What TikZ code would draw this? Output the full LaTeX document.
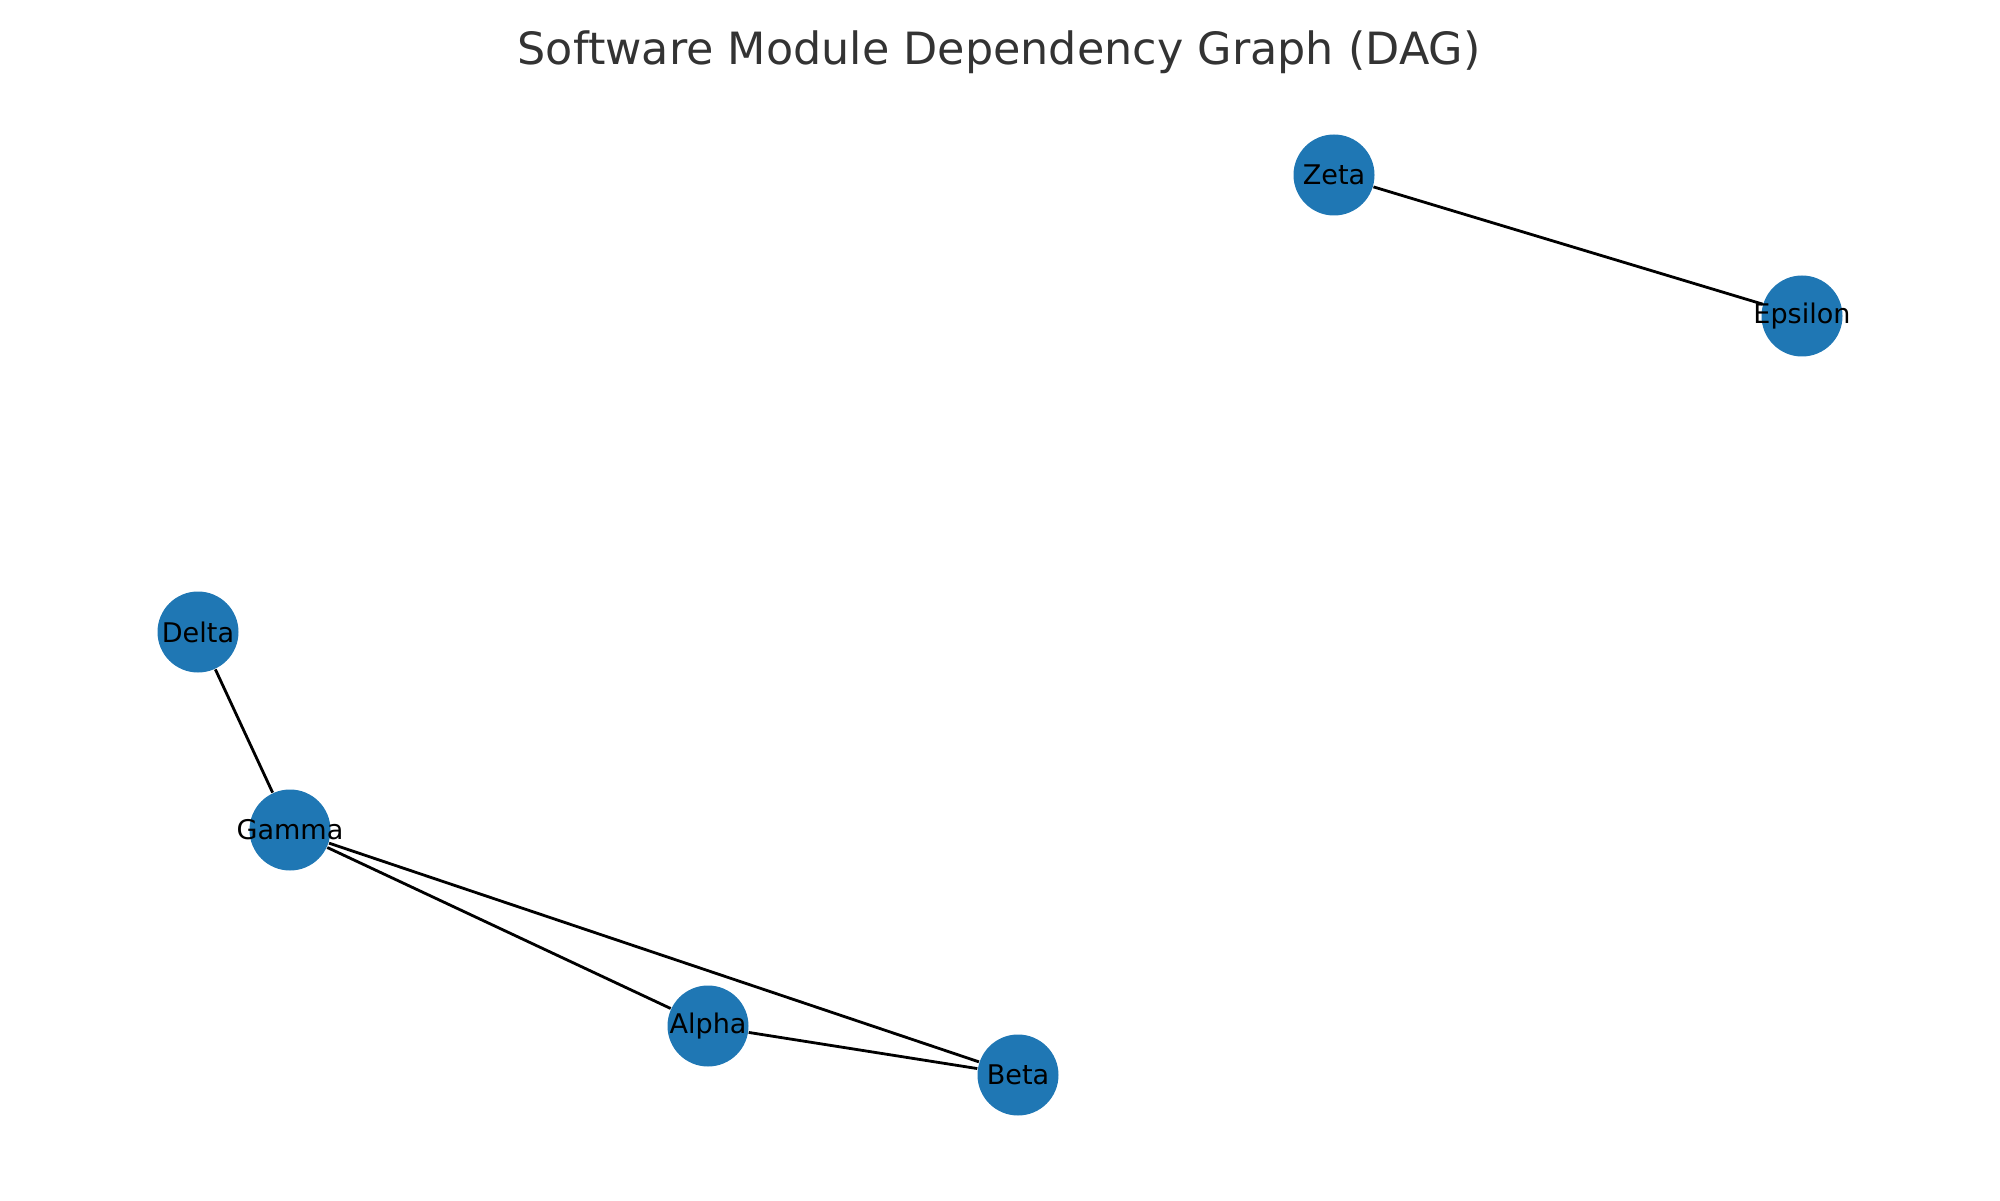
\documentclass[tikz,border=0pt]{standalone}
\usepackage{fontspec}
\setmainfont{DejaVu Sans}
\usepackage{xcolor}
\usepackage{tikz}
\usetikzlibrary{positioning}
\definecolor{modblue}{HTML}{1F77B4}
\definecolor{titlegray}{HTML}{333333}

\begin{document}
\begin{tikzpicture}[
    module/.style={circle,fill=modblue,minimum size=0.81cm,inner sep=0pt,
                   label={[font=\fontsize{7.7}{9}\selectfont,text=black]center:#1}},
    dep/.style={line width=0.8pt,black}
]
\useasboundingbox (0,0) rectangle (20,12);
\node[font=\fontsize{12.65}{15}\selectfont,text=titlegray] (title) at (9.99,11.48) {Software Module Dependency Graph (DAG)};

\node[module=Zeta]    (zeta)  at (13.34,10.25) {};
\node[module=Epsilon] (eps)   at (18.02,8.84)  {};
\node[module=Delta]   (delta) at (1.98,5.68)   {};
\node[module=Gamma]   (gamma) at (2.90,3.70)   {};
\node[module=Alpha]   (alpha) at (7.08,1.74)   {};
\node[module=Beta]    (beta)  at (10.18,1.25)  {};

\draw[dep] (zeta) -- (eps);
\draw[dep] (delta) -- (gamma);
\draw[dep] (gamma) -- (alpha);
\draw[dep] (gamma) -- (beta);
\draw[dep] (alpha) -- (beta);
\end{tikzpicture}
\end{document}
